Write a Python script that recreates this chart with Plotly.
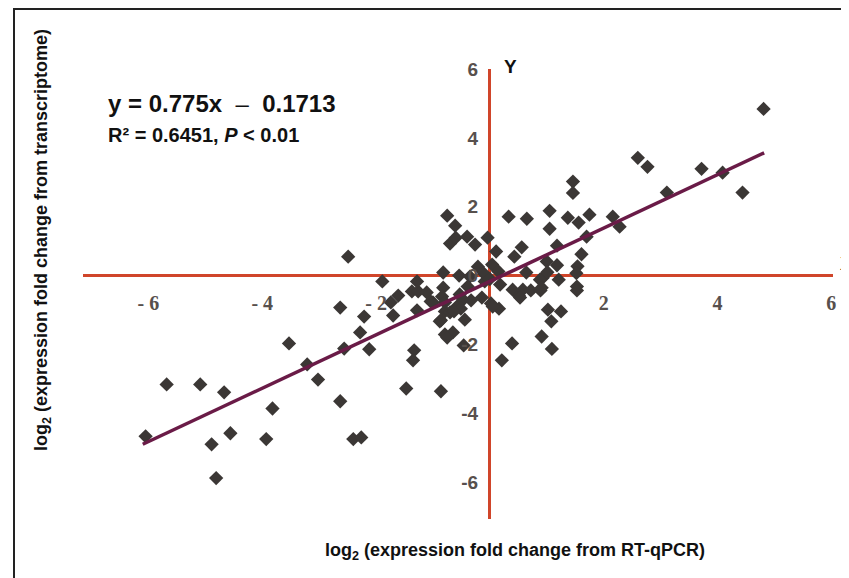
import plotly.graph_objects as go

# ---- data ----
rt_qpcr = [
    -6.05, -5.68, -5.09, -4.67, -4.89, -4.56, -4.81, -3.82, -3.93, -3.53, -3.21, -3.02,
    -2.63, -2.56, -2.63, -2.21, -2.28, -2.12, -2.40, -2.26, -2.49, -1.89, -1.74, -1.61,
    -1.70, -1.33, -1.35, -1.47, -1.28, -1.37, -1.26, -1.28, -1.11, -1.04, -0.86,
    -0.75, -0.61, -0.70, -0.60, -0.40, -0.26, -0.04, -0.82, -0.54, -0.21, -0.35, -0.39,
    -0.09, -0.82, -0.84, -1.00, -0.79, -0.79, -0.88, -0.70, -0.58, -0.53, -0.79, -0.65,
    -0.75, -0.44, -0.47, -0.33, -0.51, -0.63, -0.14, -0.46, -0.86, -0.10, 0.00,
    0.33, 0.65, 1.05, 1.05, 1.37, 1.56, 1.75, 1.46, 1.46, 0.11, 0.56, 0.43, 1.18, 1.70,
    1.61, 1.00, 1.18, 1.54, 1.52, 0.04, 0.15, 0.64, 0.93, 1.01, 1.21, 0.88, 0.18, 0.02,
    0.16, 0.40, 0.51, 0.58, 0.72, 0.89, 0.91, 1.53, 1.53, 0.53, 1.02, 1.25, 1.08, 0.91,
    1.09, 0.39, 0.21, 0.05,
    2.16, 2.28, 2.60, 2.77, 3.11, 3.72, 4.09, 4.44, 4.81,
]
transcriptome = [
    -4.67, -3.16, -3.16, -3.39, -4.90, -4.58, -5.88, -3.86, -4.75, -1.97, -2.58, -3.02,
    -0.93, -2.12, -3.65, -1.19, -1.65, -2.14, -4.75, -4.70, 0.55, -0.17, -0.78, -0.58,
    -1.16, -2.17, -2.46, -3.28, -1.01, -0.46, -0.46, -0.17, -0.49, -0.75, -3.36,
    1.74, 1.45, 0.93, 1.10, 1.13, 0.90, 1.10, 0.09, 0.00, 0.26, -0.03, -0.32,
    -0.17, -0.35, -0.61, -0.78, -0.78, -1.04, -1.33, -1.07, -0.90, -0.55, -1.71, -1.65,
    -1.80, -1.28, -0.70, -0.72, -0.96, -1.04, -0.64, -2.03, -1.30, 0.05, -0.10,
    1.71, 1.65, 1.88, 1.36, 1.68, 1.54, 1.77, 2.73, 2.40, 0.70, 0.82, 0.55, 0.87, 1.13,
    0.62, 0.41, 0.30, 0.27, 0.07, 0.32, 0.12, 0.09, -0.06, 0.10, -0.12, -0.12, -0.26, -0.81,
    -0.96, -0.41, -0.58, -0.41, -0.43, -0.43, -0.35, -0.32, -0.43, -0.64, -0.99, -1.04, -1.33, -1.77,
    -2.13, -1.97, -2.46, -0.90,
    1.71, 1.42, 3.42, 3.16, 2.41, 3.10, 2.99, 2.41, 4.84,
]

slope = 0.775
intercept = -0.1713
fit_x = [-6.1, 4.82]
fit_y = [slope * v + intercept for v in fit_x]

x_ticks = [-6, -4, -2, 2, 4, 6]
y_ticks = [-6, -4, -2, 0, 2, 4, 6]

x_range = [-7.15, 6.03]
y_range = [-7.07, 6.0]

# ---- layout helpers (page pixel -> paper); page body has an 8px margin ----
OFF = 8
W, H = 849 - OFF, 578 - OFF
L, T = 83 - OFF, 69 - OFF
PW, PH = 750, 450
R, B = W - L - PW, H - T - PH


def px(xp):
    return (xp - OFF - L) / PW


def py(yp):
    return (T + PH - (yp - OFF)) / PH


fig = go.Figure()

fig.add_trace(go.Scatter(
    x=rt_qpcr, y=transcriptome, mode="markers",
    marker=dict(symbol="diamond", size=11, color="#3b3735"),
    showlegend=False, hoverinfo="skip",
))

fig.add_trace(go.Scatter(
    x=fit_x, y=fit_y, mode="lines",
    line=dict(color="#6a1b47", width=3.5),
    showlegend=False, hoverinfo="skip",
))

xpos = (0 - y_range[0]) / (y_range[1] - y_range[0])
ypos = (0 - x_range[0]) / (x_range[1] - x_range[0])

red = "#d0452a"

fig.update_layout(
    width=W, height=H,
    margin=dict(l=L, r=R, t=T, b=B),
    paper_bgcolor="white", plot_bgcolor="white",
    xaxis=dict(
        range=x_range, anchor="free", position=xpos,
        showgrid=False, showline=False,
        zeroline=True, zerolinecolor=red, zerolinewidth=2.5,
        tickmode="array", tickvals=x_ticks,
        ticktext=[("- " + str(-v)) if v < 0 else str(v) for v in x_ticks],
        ticks="outside", ticklen=9, tickcolor="rgba(0,0,0,0)",
        tickfont=dict(family="Liberation Serif, Times New Roman, serif", size=20,
                      color="#57504d", weight="bold"),
    ),
    yaxis=dict(
        range=y_range, anchor="free", position=ypos,
        showgrid=False, showline=False,
        zeroline=True, zerolinecolor=red, zerolinewidth=2.5,
        tickmode="array", tickvals=y_ticks, ticktext=[str(v) for v in y_ticks],
        ticks="outside", ticklen=8, tickcolor="rgba(0,0,0,0)",
        tickfont=dict(family="Liberation Sans, Arial, sans-serif", size=19,
                      color="#57504d", weight="bold"),
    ),
    font=dict(family="Liberation Sans, Arial, sans-serif", color="#111111"),
)

# outer frame (right and bottom extend beyond the page)
fig.add_shape(type="rect", xref="paper", yref="paper",
              x0=px(14), x1=px(880), y0=py(620), y1=py(9),
              line=dict(color="#222222", width=2), fillcolor="rgba(0,0,0,0)")

sans = "Liberation Sans, Arial, sans-serif"
ann = [
    dict(x=px(106), y=py(103), xanchor="left", yanchor="middle",
         text="<b>y = 0.775x</b>  –  <b>0.1713</b>", font=dict(size=24, family=sans, color="#111")),
    dict(x=px(106), y=py(135), xanchor="left", yanchor="middle",
         text="<b>R² = 0.6451, <i>P</i> < 0.01</b>", font=dict(size=20, family=sans, color="#111")),
    dict(x=px(502), y=py(66), xanchor="left", yanchor="middle",
         text="<b>Y</b>", font=dict(size=19, family=sans, color="#111")),
    dict(x=px(838), y=py(263), xanchor="left", yanchor="middle",
         text="<b>X</b>", font=dict(size=19, family=sans, color="#111")),
    dict(x=px(42), y=py(240), xanchor="center", yanchor="middle", textangle=-90,
         text="<b>log<sub>2</sub> (expression fold change from transcriptome)</b>",
         font=dict(size=18, family=sans, color="#111")),
    dict(x=px(515), y=py(551), xanchor="center", yanchor="middle",
         text="<b>log<sub>2</sub> (expression fold change from RT-qPCR)</b>",
         font=dict(size=18, family=sans, color="#111")),
]
for a in ann:
    fig.add_annotation(xref="paper", yref="paper", showarrow=False, **a)

fig.write_html("out.html")
